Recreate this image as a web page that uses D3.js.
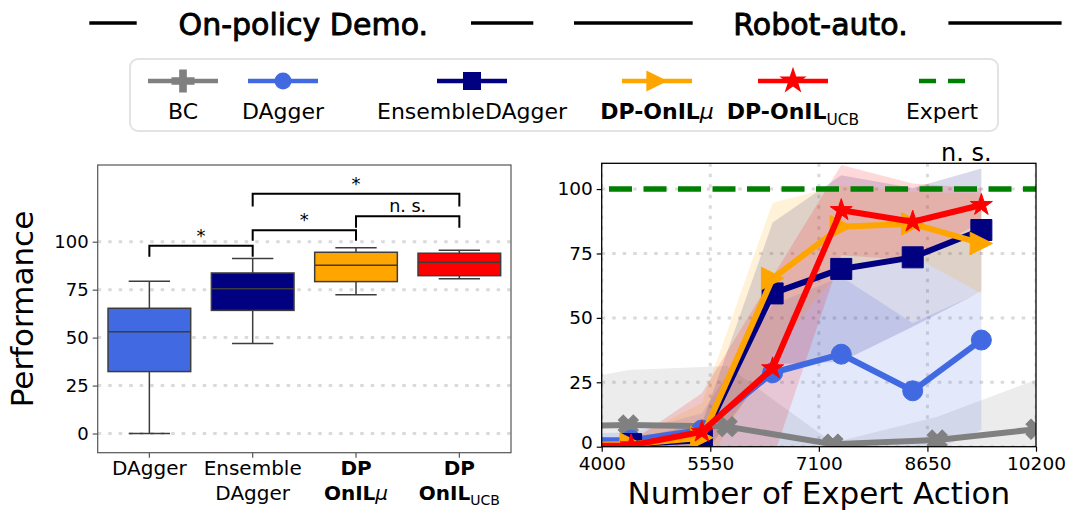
<!DOCTYPE html>
<html>
<head>
<meta charset="utf-8">
<script src="https://cdn.jsdelivr.net/npm/d3@7"></script>
<style>
  body { margin: 0; background: #fff; }
  svg { display: block; }
  text { font-family: "DejaVu Sans", sans-serif; fill: #000; }
</style>
</head>
<body>
<svg id="chart" width="1078" height="510"></svg>
<script>
// ---------- box plot: final performance per method ----------
const boxMethods = ["DAgger", "EnsembleDAgger", "DP-OnILmu", "DP-OnILUCB"];
const boxColors = ["royalblue", "navy", "orange", "red"];
const boxWhiskerLow = [0, 46.9, 72.4, 80.7];
const boxQ1 = [32.3, 64.2, 79.2, 82.3];
const boxMedian = [53.1, 75.5, 87.7, 89.3];
const boxQ3 = [65.3, 83.7, 94.5, 94.0];
const boxWhiskerHigh = [79.4, 91.3, 96.9, 95.5];
const boxYTicks = [0, 25, 50, 75, 100];

// significance brackets between box pairs
const bracketPairs = [[0, 1], [1, 2], [2, 3], [1, 3]];
const bracketTop = [97.9, 106, 113.3, 125];
const bracketLegEnd = [92.2, 100.5, 107.3, 118.4];
const bracketLabels = ["*", "*", "n. s.", "*"];

// ---------- learning curves vs. number of expert actions ----------
const bcActions = [2930, 4380, 5790, 7300, 8790, 10200];
const bcMean = [7.6, 8.4, 7.8, 1.0, 2.6, 6.8];
const bcUpper = [22, 29.8, 31.3, 1.5, 11.6, 26];
const bcLower = [-7, -13, -15.7, 0.5, -6.4, -12.4];

const onlineActions = [3420, 4420, 5430, 6440, 7420, 8440, 9420];

const daggerMean = [2.6, 2.5, 6.5, 28.7, 35.9, 21.7, 41.4];
const daggerUpper = [5, 5.5, 13, 55, 66, 48, 60];
const daggerLower = [0, -0.5, 0, -5, -2, -5, 6.5];

const ensembleMean = [1.0, 1.0, 2.5, 59.5, 69.0, 73.5, 84.1];
const ensembleUpper = [2.5, 3, 9, 87, 105.4, 100.4, 108];
const ensembleLower = [-0.5, -1, -4, 32, 33, 46.6, 60.2];

const muMean = [0.8, 1.0, 3.5, 65.3, 85.4, 86.5, 78.9];
const muUpper = [2, 3, 17, 94.7, 101.5, 99, 98.3];
const muLower = [-0.4, -1, -10, 36, 69.3, 74, 59.5];

const ucbMean = [0.3, 0.5, 5.8, 30.4, 91.8, 87.3, 93.8];
const ucbUpper = [1, 2, 20.7, 66, 109.3, 102.2, 100.3];
const ucbLower = [-0.4, -1, -9, -5, 74.3, 72.4, 87.3];

const expertScore = 100;
const curveXTicks = [4000, 5550, 7100, 8650, 10200];
const curveYTicks = [0, 25, 50, 75, 100];

// ---------- drawing ----------
const svg = d3.select("#chart");
const FONT = '"DejaVu Sans", sans-serif';

// header: section titles flanked by rules
const header = svg.append("g");
[[89.3, 136.7], [471, 533.3], [574, 692.7], [948.4, 1061.6]].forEach(([a, b]) => {
  header.append("line").attr("x1", a).attr("x2", b).attr("y1", 23).attr("y2", 23)
    .attr("stroke", "#000").attr("stroke-width", 3.5);
});
[["On-policy Demo.", 303.3], ["Robot-auto.", 820.5]].forEach(([label, x]) => {
  header.append("text").attr("x", x).attr("y", 35).attr("text-anchor", "middle")
    .attr("font-size", 30).attr("stroke", "#000").attr("stroke-width", 0.9)
    .attr("stroke-linejoin", "round").text(label);
});

// rich label helper: parts = [{t, bold, italic, sub}]
function richText(sel, parts, size) {
  parts.forEach(p => {
    const ts = sel.append("tspan").text(p.t);
    if (p.bold) ts.attr("font-weight", "bold");
    if (p.italic) ts.attr("font-style", "italic");
    if (p.sub) ts.attr("font-size", size * 0.7).attr("dy", size * 0.25);
  });
}

// ---------- left panel: box plot ----------
const L = { x0: 97.7, x1: 511, y0: 165, y1: 452.7 };
const yL = d3.scaleLinear().domain([-10, 140]).range([L.y1, L.y0]);
const xL = d3.scaleBand().domain(boxMethods).range([L.x0, L.x1]);
const bw = xL.bandwidth();
const cx = i => xL(boxMethods[i]) + bw / 2;

const left = svg.append("g");
left.selectAll("line.grid").data(boxYTicks).join("line")
  .attr("x1", L.x0).attr("x2", L.x1)
  .attr("y1", d => yL(d)).attr("y2", d => yL(d))
  .attr("stroke", "#dadada").attr("stroke-width", 3).attr("stroke-dasharray", "3.5,7");

const edge = "#3d3d3d";
boxMethods.forEach((m, i) => {
  const c = cx(i), w = bw * 0.8;
  const g = left.append("g");
  g.append("line").attr("x1", c).attr("x2", c).attr("y1", yL(boxQ1[i])).attr("y2", yL(boxWhiskerLow[i]))
    .attr("stroke", edge).attr("stroke-width", 1.5);
  g.append("line").attr("x1", c).attr("x2", c).attr("y1", yL(boxQ3[i])).attr("y2", yL(boxWhiskerHigh[i]))
    .attr("stroke", edge).attr("stroke-width", 1.5);
  [boxWhiskerLow[i], boxWhiskerHigh[i]].forEach(v => {
    g.append("line").attr("x1", c - w / 4).attr("x2", c + w / 4).attr("y1", yL(v)).attr("y2", yL(v))
      .attr("stroke", edge).attr("stroke-width", 1.5);
  });
  g.append("rect").attr("x", c - w / 2).attr("width", w)
    .attr("y", yL(boxQ3[i])).attr("height", yL(boxQ1[i]) - yL(boxQ3[i]))
    .attr("fill", boxColors[i]).attr("stroke", edge).attr("stroke-width", 1.5);
  g.append("line").attr("x1", c - w / 2).attr("x2", c + w / 2).attr("y1", yL(boxMedian[i])).attr("y2", yL(boxMedian[i]))
    .attr("stroke", edge).attr("stroke-width", 1.5);
});

// significance brackets
bracketPairs.forEach(([a, b], k) => {
  const xa = cx(a), xb = cx(b);
  left.append("path")
    .attr("d", `M${xa},${yL(bracketLegEnd[k])}V${yL(bracketTop[k])}H${xb}V${yL(bracketLegEnd[k])}`)
    .attr("fill", "none").attr("stroke", "#000").attr("stroke-width", 2);
  left.append("text").attr("x", (xa + xb) / 2).attr("y", yL(bracketTop[k]) - 4)
    .attr("text-anchor", "middle").attr("font-size", bracketLabels[k] === "*" ? 18 : 17.5)
    .text(bracketLabels[k]);
});

// left frame and axes
left.append("rect").attr("x", L.x0).attr("y", L.y0).attr("width", L.x1 - L.x0).attr("height", L.y1 - L.y0)
  .attr("fill", "none").attr("stroke", "#555").attr("stroke-width", 1.2);
const yAxisL = d3.axisLeft(yL).tickValues(boxYTicks).tickSize(5).tickPadding(4);
const gyL = left.append("g").attr("transform", `translate(${L.x0},0)`).call(yAxisL);
gyL.select(".domain").remove();
gyL.selectAll(".tick line").attr("stroke", "#555").attr("stroke-width", 1.2);
gyL.selectAll(".tick text").attr("font-size", 18).attr("font-family", FONT).attr("fill", "#000");

const boxTickParts = [
  [[{ t: "DAgger" }]],
  [[{ t: "Ensemble" }], [{ t: "DAgger" }]],
  [[{ t: "DP", bold: true }], [{ t: "OnIL", bold: true }, { t: "μ", italic: true }]],
  [[{ t: "DP", bold: true }], [{ t: "OnIL", bold: true }, { t: "UCB", sub: true }]]
];
boxMethods.forEach((m, i) => {
  left.append("line").attr("x1", cx(i)).attr("x2", cx(i)).attr("y1", L.y1).attr("y2", L.y1 + 5)
    .attr("stroke", "#555").attr("stroke-width", 1.2);
  boxTickParts[i].forEach((line, j) => {
    const t = left.append("text").attr("x", cx(i)).attr("y", 475 + j * 24.5)
      .attr("text-anchor", "middle").attr("font-size", 20);
    richText(t, line, 20);
  });
});
left.append("text").attr("transform", "translate(33,309) rotate(-90)")
  .attr("text-anchor", "middle").attr("font-size", 31).text("Performance");

// ---------- right panel: learning curves ----------
const R = { x0: 601.7, x1: 1036, y0: 163.3, y1: 446.7 };
const xR = d3.scaleLinear().domain([4000, 10200]).range([R.x0, R.x1]);
const yR = d3.scaleLinear().domain([0, 110]).range([R.y1, R.y0]);

svg.append("defs").append("clipPath").attr("id", "plotClip")
  .append("rect").attr("x", R.x0).attr("y", R.y0).attr("width", R.x1 - R.x0).attr("height", R.y1 - R.y0);

const right = svg.append("g");
const plot = right.append("g").attr("clip-path", "url(#plotClip)");

// dotted grid
plot.selectAll("line.hgrid").data(curveYTicks).join("line")
  .attr("x1", R.x0).attr("x2", R.x1).attr("y1", d => yR(d)).attr("y2", d => yR(d))
  .attr("stroke", "#dadada").attr("stroke-width", 3).attr("stroke-dasharray", "3.5,7");
plot.selectAll("line.vgrid").data(curveXTicks).join("line")
  .attr("x1", d => xR(d)).attr("x2", d => xR(d)).attr("y1", R.y0).attr("y2", R.y1)
  .attr("stroke", "#dadada").attr("stroke-width", 3).attr("stroke-dasharray", "3.5,7");

const rightTriangle = {
  draw(ctx, size) {
    const s = Math.sqrt(size) / 2;
    ctx.moveTo(s, 0); ctx.lineTo(-s, -s); ctx.lineTo(-s, s); ctx.closePath();
  }
};

const series = [
  { name: "BC", color: "gray", x: bcActions, mean: bcMean, lo: bcLower, hi: bcUpper,
    symbol: d3.symbolCross, size: 250, rotate: 45 },
  { name: "DAgger", color: "royalblue", x: onlineActions, mean: daggerMean, lo: daggerLower, hi: daggerUpper,
    symbol: d3.symbolCircle, size: 314, rotate: 0 },
  { name: "EnsembleDAgger", color: "navy", x: onlineActions, mean: ensembleMean, lo: ensembleLower, hi: ensembleUpper,
    symbol: d3.symbolSquare, size: 441, rotate: 0 },
  { name: "DP-OnILmu", color: "orange", x: onlineActions, mean: muMean, lo: muLower, hi: muUpper,
    symbol: rightTriangle, size: 500, rotate: 0 },
  { name: "DP-OnILUCB", color: "red", x: onlineActions, mean: ucbMean, lo: ucbLower, hi: ucbUpper,
    symbol: d3.symbolStar, size: 150, rotate: 0 }
];

// spread bands
series.forEach(s => {
  const area = d3.area().x((d, i) => xR(s.x[i])).y0((d, i) => yR(s.lo[i])).y1((d, i) => yR(s.hi[i]));
  plot.append("path").datum(s.mean).attr("d", area)
    .attr("fill", s.color).attr("fill-opacity", 0.15);
});

// mean curves with markers
series.forEach(s => {
  const line = d3.line().x((d, i) => xR(s.x[i])).y(d => yR(d));
  plot.append("path").datum(s.mean).attr("d", line)
    .attr("fill", "none").attr("stroke", s.color).attr("stroke-width", 6)
    .attr("stroke-linejoin", "round");
  plot.selectAll(null).data(s.mean).join("path")
    .attr("d", d3.symbol(s.symbol, s.size))
    .attr("transform", (d, i) => `translate(${xR(s.x[i])},${yR(d)}) rotate(${s.rotate})`)
    .attr("fill", s.color).attr("stroke", s.color).attr("stroke-width", 1);
});

// expert reference
plot.append("line").attr("x1", xR(4000)).attr("x2", xR(10200))
  .attr("y1", yR(expertScore)).attr("y2", yR(expertScore))
  .attr("stroke", "green").attr("stroke-width", 5.5)
  .attr("stroke-dasharray", "23,11.5").attr("stroke-dashoffset", 27.2);

// frame and axes
right.append("rect").attr("x", R.x0).attr("y", R.y0).attr("width", R.x1 - R.x0).attr("height", R.y1 - R.y0)
  .attr("fill", "none").attr("stroke", "#000").attr("stroke-width", 1.3);
const gxR = right.append("g").attr("transform", `translate(0,${R.y1})`)
  .call(d3.axisBottom(xR).tickValues(curveXTicks).tickFormat(d3.format("d")).tickSize(5).tickPadding(5));
const gyR = right.append("g").attr("transform", `translate(${R.x0},0)`)
  .call(d3.axisLeft(yR).tickValues(curveYTicks).tickSize(5).tickPadding(4));
[gxR, gyR].forEach(g => {
  g.select(".domain").remove();
  g.selectAll(".tick line").attr("stroke", "#000").attr("stroke-width", 1.2);
  g.selectAll(".tick text").attr("font-size", 18.5).attr("font-family", FONT).attr("fill", "#000");
});
// the zero label sits just above the x tick labels
gyR.selectAll(".tick text").filter(d => d === 0).attr("dy", "0.1em");
right.append("text").attr("x", (R.x0 + R.x1) / 2).attr("y", 504).attr("text-anchor", "middle")
  .attr("font-size", 31).text("Number of Expert Action");
right.append("text").attr("x", xR(onlineActions[6]) - 15).attr("y", 160.7).attr("text-anchor", "middle")
  .attr("font-size", 24).text("n. s.");

// ---------- legend ----------
const legend = svg.append("g");
legend.append("rect").attr("x", 130).attr("y", 59).attr("width", 868).attr("height", 72).attr("rx", 8)
  .attr("fill", "#fff").attr("stroke", "#e3e3e3").attr("stroke-width", 2);
const legendItems = [
  { cx: 183, color: "gray", symbol: d3.symbolCross, size: 294, parts: [{ t: "BC" }] },
  { cx: 283, color: "royalblue", symbol: d3.symbolCircle, size: 227, parts: [{ t: "DAgger" }] },
  { cx: 472, color: "navy", symbol: d3.symbolSquare, size: 324, parts: [{ t: "EnsembleDAgger" }] },
  { cx: 657, color: "orange", symbol: rightTriangle, size: 450, parts: [{ t: "DP-OnIL", bold: true }, { t: "μ", italic: true }] },
  { cx: 793, color: "red", symbol: d3.symbolStar, size: 230, parts: [{ t: "DP-OnIL", bold: true }, { t: "UCB", sub: true }] },
  { cx: 942, color: "green", symbol: null, parts: [{ t: "Expert" }] }
];
legendItems.forEach(it => {
  if (it.symbol) {
    legend.append("line").attr("x1", it.cx - 35).attr("x2", it.cx + 35).attr("y1", 81).attr("y2", 81)
      .attr("stroke", it.color).attr("stroke-width", 4.5);
    legend.append("path").attr("d", d3.symbol(it.symbol, it.size))
      .attr("transform", `translate(${it.cx},81)`).attr("fill", it.color);
  } else {
    legend.append("line").attr("x1", it.cx - 23).attr("x2", it.cx + 23).attr("y1", 81).attr("y2", 81)
      .attr("stroke", it.color).attr("stroke-width", 4.5).attr("stroke-dasharray", "17,12");
  }
  const t = legend.append("text").attr("x", it.cx).attr("y", 119).attr("text-anchor", "middle").attr("font-size", 22);
  richText(t, it.parts, 22);
});
</script>
</body>
</html>
